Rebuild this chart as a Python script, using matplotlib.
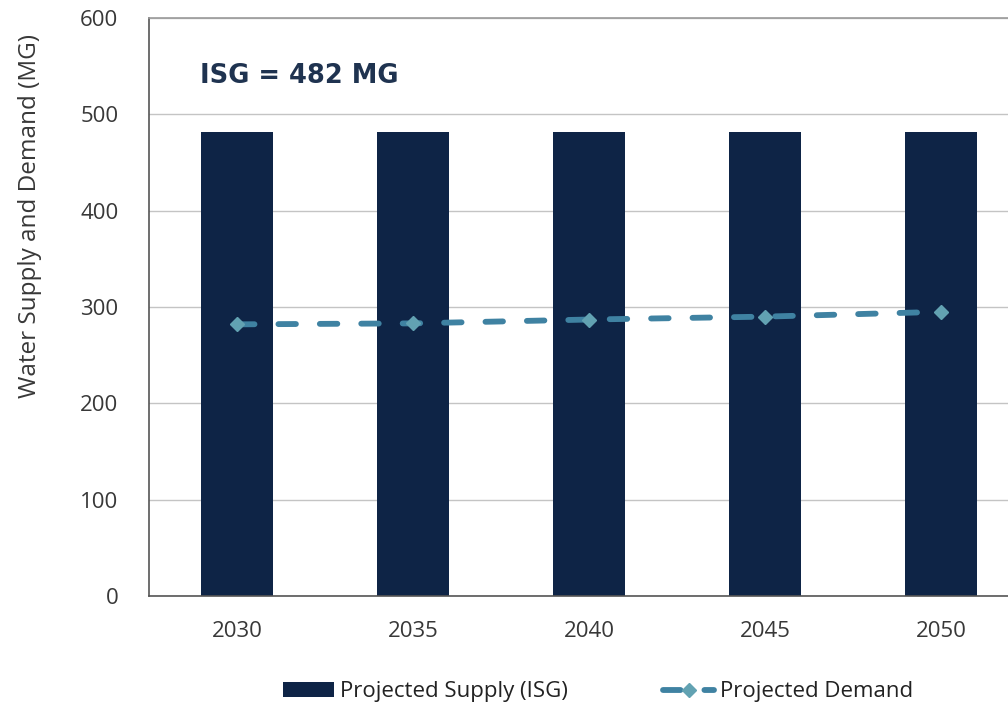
import matplotlib.pyplot as plt
import numpy as np

years = ["2030", "2035", "2040", "2045", "2050"]
supply = [482, 482, 482, 482, 482]
demand = [282, 283, 287, 290, 295]

navy = "#0e2446"
teal = "#3f82a2"
marker_col = "#62a2b2"
plt.rcParams['font.family'] = ['Open Sans', 'DejaVu Sans']

fig = plt.figure(figsize=(10.08, 7.11), dpi=100)
# axes runs past the right edge of the figure
ax = fig.add_axes([149 / 1008, 1 - 596 / 711, 880 / 1008, 578 / 711])

x = np.arange(len(years))
bars = ax.bar(x, supply, width=0.41, color=navy, label="Projected Supply (ISG)", zorder=2)
line, = ax.plot(x, demand, color=teal, lw=4.2, dashes=(3.0, 4.1), dash_capstyle="round",
                marker="D", markersize=7, markerfacecolor=marker_col,
                markeredgecolor=marker_col, label="Projected Demand", zorder=3)

ax.set_xlim(-0.5, 4.5)
ax.set_ylim(0, 600)
ax.set_yticks(range(0, 601, 100))
ax.set_xticks(x)
ax.set_xticklabels(years)
ax.yaxis.grid(True, color="#c4c4c4", lw=1)
ax.set_axisbelow(True)
ax.tick_params(axis="both", length=0, labelsize=16, colors="#383838")
ax.tick_params(axis="y", pad=22)
ax.tick_params(axis="x", pad=18)
ax.spines["right"].set_visible(False)
ax.spines["top"].set_color("#9a9a9a")
ax.spines["left"].set_color("#555555")
ax.spines["bottom"].set_color("#555555")
for s in ["top", "left", "bottom"]:
    ax.spines[s].set_linewidth(1.2)

ax.text(-0.21, 540, "ISG = 482 MG", fontsize=18.5, fontweight="bold",
        color="#1f3350", va="center", ha="left", family="DejaVu Sans")

fig.text(30 / 1008, 1 - 216 / 711, "Water Supply and Demand (MG)", rotation=90,
         ha="center", va="center", fontsize=17.5, color="#383838")

ax.legend(handles=[bars, line], loc="center", bbox_to_anchor=(0.51, -0.166), ncol=2,
          frameon=False, fontsize=16, columnspacing=4.3, handlelength=2.3,
          handletextpad=0.26, labelcolor="#222222")

fig.savefig("out.png", dpi=100)
